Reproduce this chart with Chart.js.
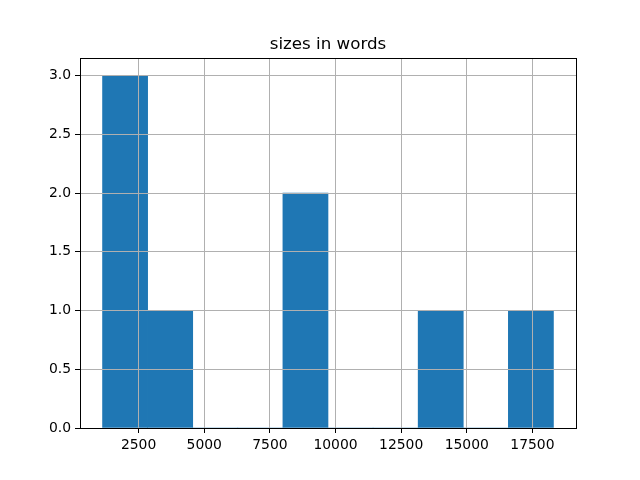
<!DOCTYPE html>
<html>
<head>
<meta charset="utf-8">
<script src="https://cdn.jsdelivr.net/npm/chart.js@4/dist/chart.umd.min.js"></script>
<style>
  body { margin: 0; background: #fff; }
  #wrap { width: 640px; height: 480px; }
</style>
</head>
<body>
<div id="wrap"><canvas id="chart" width="640" height="480"></canvas></div>
<script>
// histogram bins (10 bins)
const binEdges = [1126, 2843, 4561, 6278, 7996, 9713, 11431, 13148, 14866, 16583, 18301];
const binCounts = [3, 1, 0, 0, 2, 0, 0, 1, 0, 1];
const xTicks = [2500, 5000, 7500, 10000, 12500, 15000, 17500];
const yTicks = [0, 0.5, 1, 1.5, 2, 2.5, 3];
const titleText = 'sizes in words';

const FONT = '"DejaVu Sans", sans-serif';

// spines on all four sides + title centred over the axes (like matplotlib)
const framePlugin = {
  id: 'frame',
  afterDraw(chart) {
    const { ctx, chartArea: a } = chart;
    ctx.save();
    ctx.strokeStyle = '#000';
    ctx.lineWidth = 1;
    ctx.strokeRect(Math.round(a.left) + 0.5, Math.round(a.top) + 0.5,
      Math.round(a.right - a.left), Math.round(a.bottom - a.top));
    ctx.fillStyle = '#000';
    ctx.font = '16.7px ' + FONT;
    ctx.textAlign = 'center';
    ctx.textBaseline = 'alphabetic';
    ctx.fillText(titleText, (a.left + a.right) / 2, a.top - 9);
    ctx.restore();
  }
};

const barData = binCounts.map((c, i) => ({ x: (binEdges[i] + binEdges[i + 1]) / 2, y: c }));

new Chart(document.getElementById('chart').getContext('2d'), {
  type: 'bar',
  data: {
    datasets: [{
      data: barData,
      backgroundColor: '#1f77b4',
      borderWidth: 0,
      barPercentage: 1,
      categoryPercentage: 1
    }]
  },
  options: {
    responsive: false,
    animation: false,
    layout: { padding: { left: 0, right: 64, top: 58, bottom: 0 } },
    scales: {
      x: {
        type: 'linear',
        offset: false,
        min: 267,
        max: 19160,
        afterBuildTicks: s => { s.ticks = xTicks.map(v => ({ value: v })); },
        afterFit: s => { s.height = 52; },
        grid: { color: '#b0b0b0', tickColor: '#000', tickLength: 5, offset: false, z: 1 },
        border: { display: false },
        ticks: {
          color: '#000', padding: 4, maxRotation: 0, autoSkip: false,
          font: { family: FONT, size: 13.9 },
          callback: v => String(v)
        }
      },
      y: {
        min: 0,
        max: 3.15,
        afterBuildTicks: s => { s.ticks = yTicks.map(v => ({ value: v })); },
        afterFit: s => { s.width = 80; },
        grid: { color: '#b0b0b0', tickColor: '#000', tickLength: 5, z: 1 },
        border: { display: false },
        ticks: {
          color: '#000', padding: 4,
          font: { family: FONT, size: 13.9 },
          callback: v => v.toFixed(1)
        }
      }
    },
    plugins: {
      legend: { display: false },
      tooltip: { enabled: false },
      title: { display: false }
    }
  },
  plugins: [framePlugin]
});
</script>
</body>
</html>
